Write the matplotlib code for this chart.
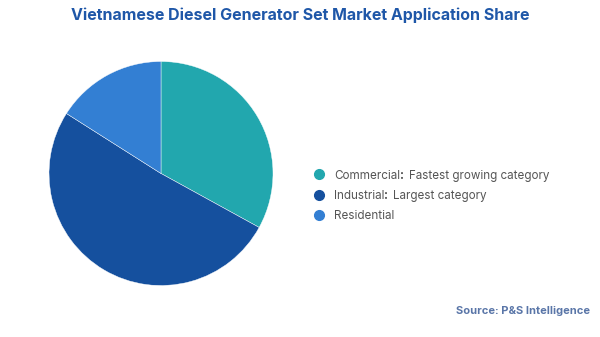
import matplotlib
matplotlib.use("Agg")
import matplotlib.pyplot as plt
from matplotlib.lines import Line2D

categories = ["Commercial", "Industrial", "Residential"]
notes = ["Fastest growing category", "Largest category", ""]
shares = [33, 51, 16]
colors = ["#22a7ae", "#15509e", "#337fd3"]

plt.rcParams["font.family"] = ["Inter", "DejaVu Sans"]

fig = plt.figure(figsize=(6.0, 3.37), dpi=100)
W, H = 600, 337

# pie area: centre (161, 173.5), radius 112 px
cx, cy, r = 161, 173.5, 112
ax = fig.add_axes([(cx - r) / W, 1 - (cy + r) / H, 2 * r / W, 2 * r / H])
ax.pie(shares, colors=colors, startangle=90, counterclock=False,
       wedgeprops=dict(linewidth=0.3, edgecolor="white"))
ax.set_xlim(-1, 1)
ax.set_ylim(-1, 1)
ax.set_aspect("equal")
ax.axis("off")

fig.text(0.5, 1 - 15 / H, "Vietnamese Diesel Generator Set Market Application Share",
         ha="center", va="center", fontsize=11.5, fontweight="bold", color="#1f57a8")

# legend: marker plus label, with a bold colon before the note
fs = 8.4
for i, (cat, note, col) in enumerate(zip(categories, notes, colors)):
    ym = 174.5 + 20 * i
    y = 1 - ym / H
    yb = 1 - (ym + 4.2) / H
    fig.add_artist(Line2D([319 / W], [y], marker="o", markersize=7,
                          color=col, linestyle="none", transform=fig.transFigure))
    t = fig.text(334 / W, yb, cat, ha="left", va="baseline", fontsize=fs, color="#555555")
    if note:
        fig.canvas.draw()
        bb = t.get_window_extent()
        t2 = fig.text(bb.x1 / W, yb, ":", ha="left", va="baseline", fontsize=fs,
                      fontweight="bold", color="#444444")
        bb2 = t2.get_window_extent()
        fig.text(bb2.x1 / W + 5 / W, yb, note, ha="left", va="baseline",
                 fontsize=fs, color="#555555")

fig.text(590 / W, 1 - 311 / H, "Source: P&S Intelligence", ha="right", va="center",
         fontsize=8, fontweight="bold", color="#5a76a8")

fig.savefig("out.png", dpi=100)
